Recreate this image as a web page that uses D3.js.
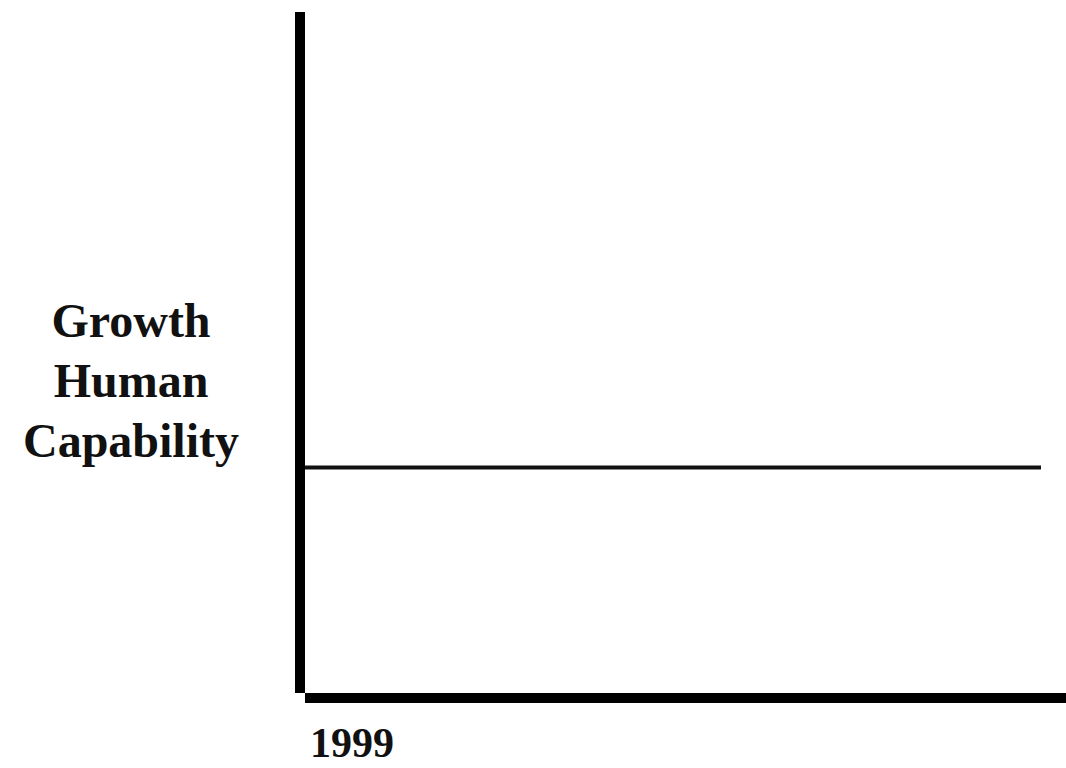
<!DOCTYPE html>
<html>
<head>
<meta charset="utf-8">
<script src="https://cdn.jsdelivr.net/npm/d3@7"></script>
<style>
  body { margin: 0; background: #fff; }
  svg { display: block; }
</style>
</head>
<body>
<svg class="displayContext" width="1066" height="768"></svg>
<script>
var yLabel    = ["Growth", "Human", "Capability"];
var xTicks    = [1999];
var levelX    = [0, 1];
var levelData = [33.6, 33.6];

function drawChart(){

  displayContext = d3.select(".displayContext");

  var scaleX = d3.scaleLinear()
                 .domain([0, 1])
                 .range([305, 1041]);

  var scaleY = d3.scaleLinear()
                 .domain([0, 100])
                 .range([698, 12]);

  // axes: thick black bars
  displayContext.append("line")
    .attr("x1", 300).attr("x2", 300)
    .attr("y1", scaleY(100)).attr("y2", 693)
    .attr("stroke", "#000")
    .attr("stroke-width", 10);

  displayContext.append("line")
    .attr("x1", scaleX(0)).attr("x2", 1066)
    .attr("y1", scaleY(0)).attr("y2", scaleY(0))
    .attr("stroke", "#000")
    .attr("stroke-width", 10);

  // flat capability line
  var lineFunction = d3.line()
    .x(function(d, i) { return scaleX(levelX[i]); })
    .y(function(d) { return scaleY(d); });

  displayContext.append("path")
    .attr("d", lineFunction(levelData))
    .attr("stroke", "#111")
    .attr("stroke-width", 4)
    .attr("fill", "none");

  // y label
  displayContext.append("g")
    .selectAll("text")
    .data(yLabel)
    .enter().append("text")
    .attr("x", 131)
    .attr("y", function(d, i) { return 337 + i * 60; })
    .attr("text-anchor", "middle")
    .attr("font-family", "Liberation Serif, Times New Roman, serif")
    .attr("font-weight", "bold")
    .attr("font-size", 48)
    .attr("fill", "#111")
    .text(function(d) { return d; });

  // x tick label
  displayContext.append("g")
    .selectAll("text")
    .data(xTicks)
    .enter().append("text")
    .attr("x", scaleX(0) + 5)
    .attr("y", 757)
    .attr("font-family", "Liberation Serif, Times New Roman, serif")
    .attr("font-weight", "bold")
    .attr("font-size", 42)
    .attr("fill", "#111")
    .text(function(d) { return d; });
}

drawChart();
</script>
</body>
</html>
